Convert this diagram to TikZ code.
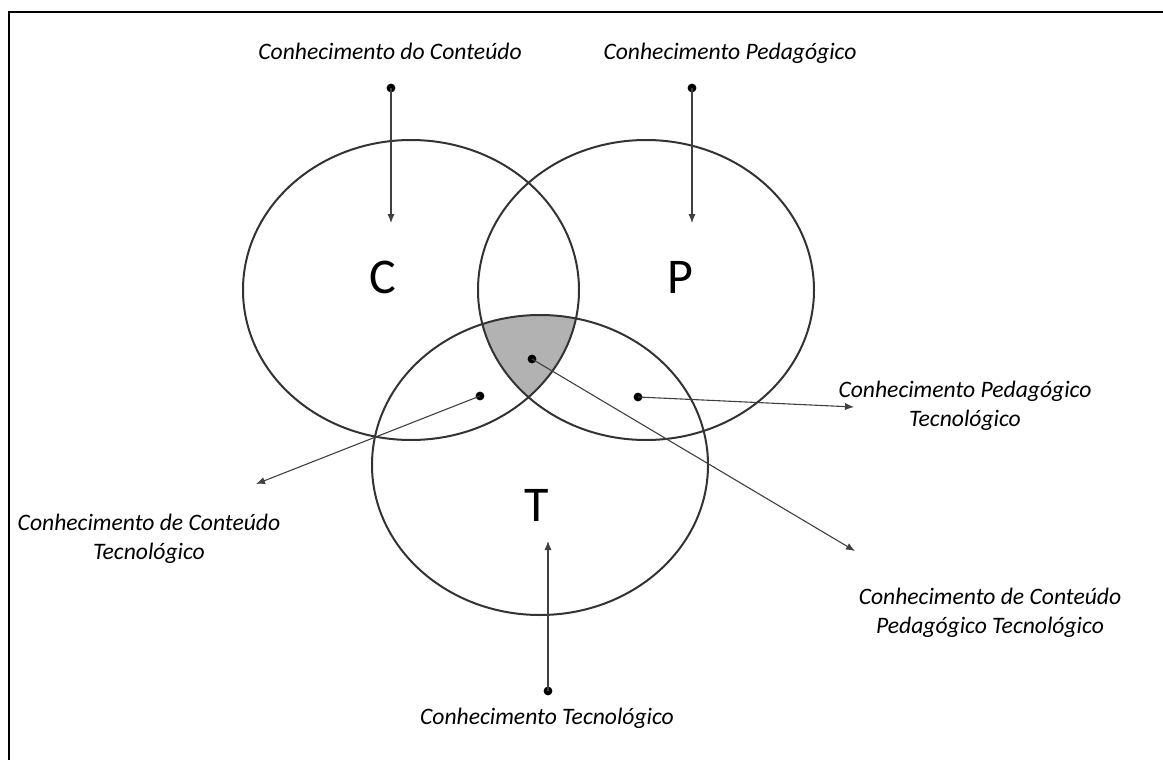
\documentclass[tikz,border=0pt]{standalone}
\usepackage{fontspec}
\setmainfont{Carlito}
\usetikzlibrary{arrows.meta,shapes.geometric}
\begin{document}
\begin{tikzpicture}[x=0.5pt,y=-0.5pt,
  setellipse/.style={draw=black!80, line width=1pt, ellipse, minimum width=168pt, minimum height=150pt, inner sep=0pt},
  lbl/.style={font=\fontsize{11.8}{14.6}\selectfont\itshape, text=black, align=center, inner sep=0pt},
  big/.style={font=\fontsize{25}{30}\selectfont, text=black, inner sep=0pt},
  dotnode/.style={circle, fill=black, inner sep=0pt, minimum size=4.4pt},
  conn/.style={draw=black!75, line width=0.55pt, -{Latex[length=4.5pt,width=3.6pt]}}]
\useasboundingbox (0,0) rectangle (1163,760);
% frame
\draw[line width=1.3pt] (9,760) -- (9,12) -- (1163,12);
% shaded centre region
\begin{scope}
  \clip (411,290) ellipse [x radius=84pt, y radius=75pt];
  \clip (646,290) ellipse [x radius=84pt, y radius=75pt];
  \fill[black!30] (540,465) ellipse [x radius=84pt, y radius=75pt];
\end{scope}
% sets
\node[setellipse] (setC) at (411,290) {};
\node[setellipse] (setP) at (646,290) {};
\node[setellipse] (setT) at (540,465) {};
% letters
\node[big] (letC) at (383,277) {C};
\node[big] (letP) at (680,277) {P};
\node[big] (letT) at (537,505) {T};
% labels
\node[lbl, anchor=base] (lblC) at (390,59) {Conhecimento do Conteúdo};
\node[lbl, anchor=base] (lblP) at (730,59) {Conhecimento Pedagógico};
\node[lbl] (lblPT) at (965,406) {Conhecimento Pedagógico\\Tecnológico};
\node[lbl] (lblCT) at (149,539) {Conhecimento de Conteúdo\\Tecnológico};
\node[lbl] (lblCPT) at (990,613) {Conhecimento de Conteúdo\\Pedagógico Tecnológico};
\node[lbl, anchor=base] (lblT) at (547,724) {Conhecimento Tecnológico};
% dots and arrow ends
\node[dotnode] (dC) at (391,88) {};
\coordinate (eC) at (391,223);
\node[dotnode] (dP) at (692,88) {};
\coordinate (eP) at (692,223);
\node[dotnode] (dT) at (548,691) {};
\coordinate (eT) at (548,541);
\node[dotnode] (dCT) at (480,396) {};
\coordinate (eCT) at (256,484);
\node[dotnode] (dCPT) at (532,359) {};
\coordinate (eCPT) at (855,551);
\node[dotnode] (dPT) at (638,397) {};
\coordinate (ePT) at (854,407);
% connectors
\draw[conn] (dC.center) -- (eC);
\draw[conn] (dP.center) -- (eP);
\draw[conn] (dT.center) -- (eT);
\draw[conn] (dCT.center) -- (eCT);
\draw[conn] (dCPT.center) -- (eCPT);
\draw[conn] (dPT.center) -- (ePT);
\end{tikzpicture}
\end{document}
